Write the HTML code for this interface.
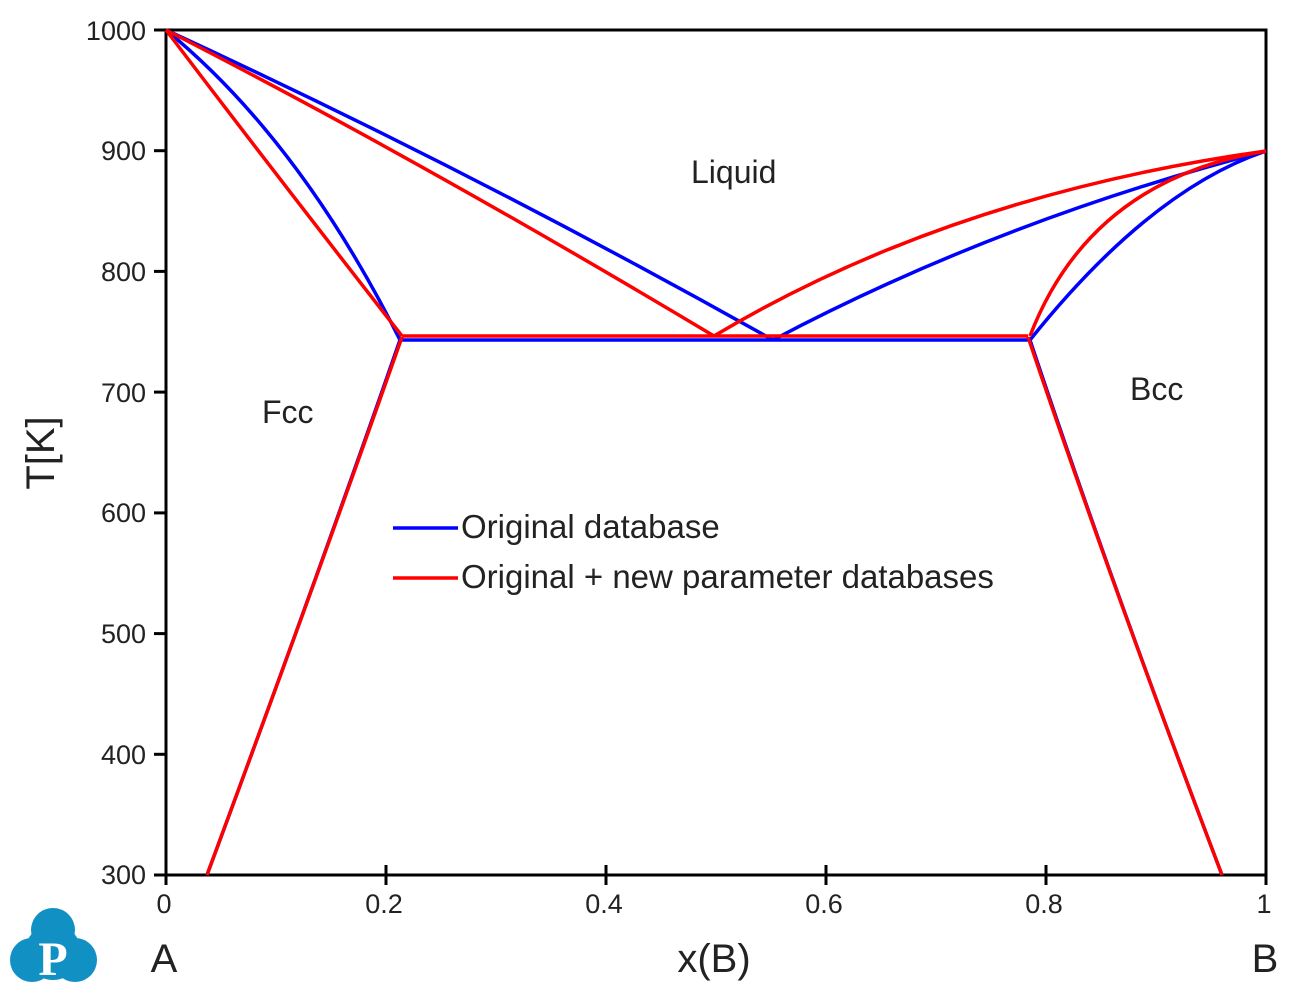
<!DOCTYPE html>
<html><head><style>
body{margin:0;background:#fff;}
svg text{font-family:"Liberation Sans",Arial,sans-serif;fill:#222;}
</style></head><body>
<svg width="1294" height="989" viewBox="0 0 1294 989" xmlns="http://www.w3.org/2000/svg">
<rect width="1294" height="989" fill="#fff"/>
<rect x="166" y="30" width="1100" height="845" fill="none" stroke="#000" stroke-width="3"/>
<g stroke="#000" stroke-width="3">
<line x1="154" y1="30" x2="166" y2="30"/><line x1="154" y1="150.7" x2="166" y2="150.7"/>
<line x1="154" y1="271.4" x2="166" y2="271.4"/><line x1="154" y1="392.1" x2="166" y2="392.1"/>
<line x1="154" y1="512.9" x2="166" y2="512.9"/><line x1="154" y1="633.6" x2="166" y2="633.6"/>
<line x1="154" y1="754.3" x2="166" y2="754.3"/><line x1="154" y1="875" x2="166" y2="875"/>
<line x1="166" y1="865" x2="166" y2="885"/><line x1="386" y1="865" x2="386" y2="885"/>
<line x1="606" y1="865" x2="606" y2="885"/><line x1="826" y1="865" x2="826" y2="885"/>
<line x1="1046" y1="865" x2="1046" y2="885"/><line x1="1266" y1="865" x2="1266" y2="885"/>
</g>
<g font-size="27" text-anchor="end">
<text x="146" y="40">1000</text><text x="146" y="160">900</text><text x="146" y="281">800</text>
<text x="146" y="402">700</text><text x="146" y="522">600</text><text x="146" y="643">500</text>
<text x="146" y="764">400</text><text x="146" y="884">300</text>
</g>
<g font-size="27" text-anchor="middle">
<text x="164" y="913">0</text><text x="384" y="913">0.2</text><text x="604" y="913">0.4</text>
<text x="824" y="913">0.6</text><text x="1044" y="913">0.8</text><text x="1264" y="913">1</text>
</g>
<text x="714" y="972" font-size="40" text-anchor="middle">x(B)</text>
<text x="164" y="972" font-size="40" text-anchor="middle">A</text>
<text x="1265" y="972" font-size="40" text-anchor="middle">B</text>
<text transform="translate(54,453) rotate(-90)" font-size="40" text-anchor="middle">T[K]</text>
<text x="691" y="183" font-size="32">Liquid</text>
<text x="262" y="423" font-size="32">Fcc</text>
<text x="1130" y="400" font-size="32">Bcc</text>
<g fill="none" stroke="#0000ff" stroke-width="3.5">
<path d="M166,30 Q470,170 773,340"/>
<path d="M166,30 Q300,140 400,340"/>
<path d="M400,340 L1030,340"/>
<path d="M400,340 Q320,570 207,875"/>
<path d="M1030,340 Q1110,580 1222,875"/>
<path d="M773,340 Q1000,220 1266,151"/>
<path d="M1030,340 Q1150,190 1266,151"/>
</g>
<g fill="none" stroke="#ff0000" stroke-width="3.5">
<path d="M166,30 Q420,160 714,336"/>
<path d="M166,30 Q280,180 402,336"/>
<path d="M402,336 L1028,336"/>
<path d="M402,337 Q320,570 207,875"/>
<path d="M1028,337 Q1110,580 1222,875"/>
<path d="M714,336 Q950,195 1266,151"/>
<path d="M1030,336 Q1090,180 1266,151"/>
</g>
<line x1="393" y1="528" x2="458" y2="528" stroke="#0000ff" stroke-width="3.5"/>
<line x1="393" y1="578" x2="458" y2="578" stroke="#ff0000" stroke-width="3.5"/>
<text x="461" y="538" font-size="33">Original database</text>
<text x="461" y="588" font-size="33">Original + new parameter databases</text>
<g fill="#1190c4">
<circle cx="53" cy="930" r="22"/>
<circle cx="32" cy="960" r="22"/>
<circle cx="75" cy="960" r="22"/>
<circle cx="53" cy="952" r="28"/>
</g>
<text x="53" y="975" font-size="48" font-weight="bold" text-anchor="middle" style="font-family:'Liberation Serif',serif;fill:#fff">P</text>
</svg>
</body></html>
